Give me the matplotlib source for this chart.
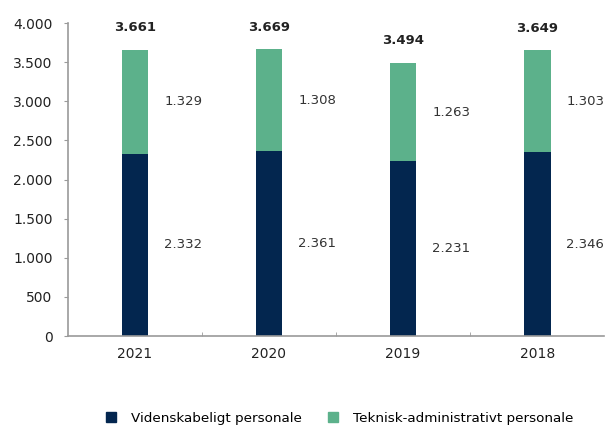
import matplotlib
matplotlib.use("Agg")
import matplotlib.pyplot as plt
from matplotlib.lines import Line2D
import numpy as np

YEARS = ["2021", "2020", "2019", "2018"]
VIDENSKABELIGT = [2332, 2361, 2231, 2346]
TEKNISK = [1329, 1308, 1263, 1303]
LEGEND_LABELS = ["Videnskabeligt personale", "Teknisk-administrativt personale"]

NAVY = "#03264f"
GREEN = "#5cb18b"
TEXT = "#222222"


def dk(value):
    return f"{value:,.0f}".replace(",", ".")


plt.rcParams["font.family"] = ["DejaVu Sans"]

fig = plt.figure(figsize=(6.06, 4.26), dpi=100)
ax = fig.add_axes([0.112, 0.211, 0.885, 0.735])

x = np.arange(len(YEARS))
width = 0.2
bottom = np.array(VIDENSKABELIGT)
top = np.array(TEKNISK)
totals = bottom + top

ax.bar(x, bottom, width, color=NAVY)
ax.bar(x, top, width, bottom=bottom, color=GREEN)

for i in range(len(YEARS)):
    ax.text(x[i] + 0.36, bottom[i] / 2, dk(bottom[i]), ha="center", va="center",
            fontsize=9.5, color="#333333")
    ax.text(x[i] + 0.36, bottom[i] + top[i] / 2, dk(top[i]), ha="center", va="center",
            fontsize=9.5, color="#333333")
    ax.annotate(dk(totals[i]), (x[i], totals[i]), xytext=(0, 11),
                textcoords="offset points", ha="center", va="bottom",
                fontsize=9.5, fontweight="bold", color=TEXT)

ax.set_xlim(-0.5, len(YEARS) - 0.5)
ax.set_ylim(0, 4000)
ax.set_yticks(np.arange(0, 4001, 500))
ax.set_yticklabels([dk(v) for v in np.arange(0, 4001, 500)])
ax.set_xticks(x)
ax.set_xticklabels(YEARS)
ax.set_xticks(np.arange(0.5, len(YEARS) - 0.5, 1), minor=True)

for side in ["top", "right"]:
    ax.spines[side].set_visible(False)
for side in ["left", "bottom"]:
    ax.spines[side].set_color("#9a9a9a")
    ax.spines[side].set_linewidth(1.2)

ax.tick_params(axis="y", length=3, color="#9a9a9a", labelsize=10, labelcolor=TEXT, pad=8)
ax.tick_params(axis="x", which="major", length=0, labelsize=10, labelcolor=TEXT, pad=8)
ax.tick_params(axis="x", which="minor", length=3, color="#9a9a9a", direction="in")

handles = [
    Line2D([], [], marker="s", linestyle="none", markersize=7.5, color=NAVY),
    Line2D([], [], marker="s", linestyle="none", markersize=7.5, color=GREEN),
]
fig.legend(handles, LEGEND_LABELS, loc="lower center", bbox_to_anchor=(0.553, -0.025),
           ncol=2, frameon=False, fontsize=9.7, handletextpad=0.5, columnspacing=1.3)

fig.savefig("out.png", dpi=100)
